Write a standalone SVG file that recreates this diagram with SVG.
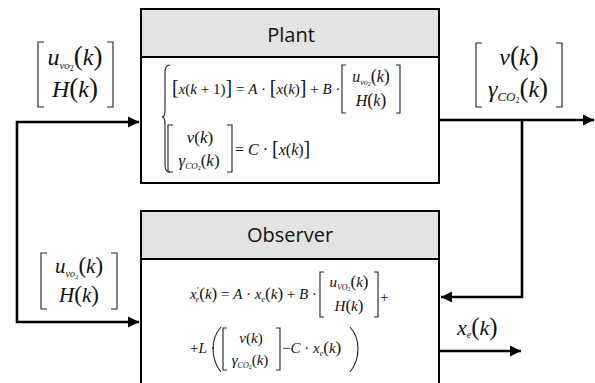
<svg xmlns="http://www.w3.org/2000/svg" width="595" height="383" viewBox="0 0 595 383">
<style>
.box{fill:#fff;stroke:#000;stroke-width:2}
.hdr{fill:#e3e3e3;stroke:#000;stroke-width:2}
.title{font-family:"Open Sans","Noto Sans",sans-serif;font-size:20px;fill:#111;text-anchor:middle}
.m{font-family:"Liberation Serif","Times New Roman",serif;fill:#111}
.i{font-style:italic}
.br{fill:none;stroke:#222;stroke-width:1.1}
.c{fill:none;stroke:#000;stroke-width:2.6}
</style>
<defs>
<marker id="ah" markerUnits="userSpaceOnUse" markerWidth="12" markerHeight="12" viewBox="0 0 12 12" refX="11" refY="6" orient="auto-start-reverse">
<path d="M0,0.5 L11,6 L0,11.5 Z" fill="#000"/>
</marker>
</defs>

<g id="plant">
<rect class="box" x="141" y="9" width="298" height="174"/>
<rect class="hdr" x="141" y="9" width="298" height="48"/>
<text class="title" x="291" y="42">Plant</text>
<path class="br" d="M170,65 Q165,65 165,72 V110 Q165,117 162,117 Q165,117 165,124 V165 Q165,172 170,172"/>
<text class="m" x="172" y="94" font-size="15"><tspan font-size="20">[</tspan><tspan class="i">x</tspan>(<tspan class="i">k</tspan> + 1)<tspan font-size="20">]</tspan> = <tspan class="i">A</tspan> · <tspan font-size="20">[</tspan><tspan class="i">x</tspan>(<tspan class="i">k</tspan>)<tspan font-size="20">]</tspan> + <tspan class="i">B</tspan> ·</text>
<path class="br" d="M346,65 H342 V113 H346 M396,65 H400 V113 H396"/>
<text class="m" x="371" y="82" font-size="16" text-anchor="middle"><tspan class="i">u</tspan><tspan class="i" font-size="8" dy="3">vo</tspan><tspan font-size="6" dy="1">2</tspan><tspan dy="-4" font-size="18">(</tspan><tspan class="i">k</tspan><tspan font-size="18">)</tspan></text>
<text class="m" x="371" y="106" font-size="16" text-anchor="middle"><tspan class="i">H</tspan><tspan font-size="18">(</tspan><tspan class="i">k</tspan><tspan font-size="18">)</tspan></text>
<path class="br" d="M173,125 H168 V172 H173 M227,125 H232 V172 H227"/>
<text class="m" x="200" y="143" font-size="17" text-anchor="middle"><tspan class="i">v</tspan>(<tspan class="i">k</tspan>)</text>
<text class="m" x="199" y="166" font-size="17" text-anchor="middle"><tspan class="i">γ</tspan><tspan class="i" font-size="9" dy="3">CO</tspan><tspan font-size="6" dy="1">2</tspan><tspan dy="-4">(</tspan><tspan class="i">k</tspan>)</text>
<text class="m" x="235" y="155" font-size="16">= <tspan class="i">C</tspan> · <tspan font-size="20">[</tspan><tspan class="i">x</tspan>(<tspan class="i">k</tspan>)<tspan font-size="20">]</tspan></text>
</g>

<g id="observer">
<rect class="box" x="141" y="211" width="298" height="180"/>
<rect class="hdr" x="141" y="211" width="298" height="48"/>
<text class="title" x="290" y="242">Observer</text>
<text class="m" x="190" y="299" font-size="15"><tspan class="i">x</tspan><tspan font-size="9" dy="-6">′</tspan><tspan class="i" font-size="8" dx="-3" dy="9">e</tspan><tspan dy="-3" font-size="17">(</tspan><tspan class="i">k</tspan><tspan font-size="17">)</tspan> = <tspan class="i">A</tspan> · <tspan class="i">x</tspan><tspan class="i" font-size="8" dy="3">e</tspan><tspan dy="-3" font-size="17">(</tspan><tspan class="i">k</tspan><tspan font-size="17">)</tspan> + <tspan class="i">B</tspan> ·</text>
<path class="br" d="M324,272 H320 V317 H324 M374,272 H378 V317 H374"/>
<text class="m" x="349" y="287" font-size="15" text-anchor="middle"><tspan class="i">u</tspan><tspan class="i" font-size="8" dy="3">VO</tspan><tspan font-size="6" dy="1">2</tspan><tspan dy="-4" font-size="17">(</tspan><tspan class="i">k</tspan><tspan font-size="17">)</tspan></text>
<text class="m" x="349" y="311" font-size="15" text-anchor="middle"><tspan class="i">H</tspan><tspan font-size="17">(</tspan><tspan class="i">k</tspan><tspan font-size="17">)</tspan></text>
<text class="m" x="380" y="302" font-size="15">+</text>
<text class="m" x="190" y="353" font-size="15">+<tspan class="i">L</tspan> ·</text>
<path class="br" d="M221,327 Q213,336 213,349 Q213,362 221,372"/>
<path class="br" d="M227,328 H223 V370 H227 M276,328 H280 V370 H276"/>
<text class="m" x="251" y="343" font-size="15" text-anchor="middle"><tspan class="i">v</tspan>(<tspan class="i">k</tspan>)</text>
<text class="m" x="250" y="365" font-size="15" text-anchor="middle"><tspan class="i">γ</tspan><tspan class="i" font-size="8" dy="3">CO</tspan><tspan font-size="6" dy="1">2</tspan><tspan dy="-4">(</tspan><tspan class="i">k</tspan>)</text>
<text class="m" x="282" y="353" font-size="15">−<tspan class="i">C</tspan> · <tspan class="i">x</tspan><tspan class="i" font-size="8" dy="3">e</tspan><tspan dy="-3" font-size="17">(</tspan><tspan class="i">k</tspan><tspan font-size="17">)</tspan></text>
<path class="br" d="M350,327 Q358,336 358,349 Q358,362 350,372"/>
</g>

<g id="labels">
<path class="br" d="M44,42 H38 V107 H44 M107,42 H113 V107 H107"/>
<text class="m" x="75" y="65" font-size="24" text-anchor="middle"><tspan class="i">u</tspan><tspan class="i" font-size="11" dy="4">vo</tspan><tspan font-size="8" dy="2">2</tspan><tspan dy="-6" font-size="27">(</tspan><tspan class="i">k</tspan><tspan font-size="27">)</tspan></text>
<text class="m" x="75" y="97" font-size="24" text-anchor="middle"><tspan class="i">H</tspan><tspan font-size="27">(</tspan><tspan class="i">k</tspan><tspan font-size="27">)</tspan></text>
<path class="br" d="M482,43 H476 V107 H482 M556,43 H562 V107 H556"/>
<text class="m" x="519" y="65" font-size="24" text-anchor="middle"><tspan class="i">v</tspan><tspan font-size="27">(</tspan><tspan class="i">k</tspan><tspan font-size="27">)</tspan></text>
<text class="m" x="518" y="97" font-size="24" text-anchor="middle"><tspan class="i">γ</tspan><tspan class="i" font-size="13" dy="4">CO</tspan><tspan font-size="8" dy="2">2</tspan><tspan dy="-6" font-size="27">(</tspan><tspan class="i">k</tspan><tspan font-size="27">)</tspan></text>
<path class="br" d="M47,253 H41 V309 H47 M111,253 H117 V309 H111"/>
<text class="m" x="79" y="273" font-size="21" text-anchor="middle"><tspan class="i">u</tspan><tspan class="i" font-size="10" dy="4">vo</tspan><tspan font-size="7" dy="2">2</tspan><tspan dy="-6" font-size="23">(</tspan><tspan class="i">k</tspan><tspan font-size="23">)</tspan></text>
<text class="m" x="79" y="302" font-size="21" text-anchor="middle"><tspan class="i">H</tspan><tspan font-size="23">(</tspan><tspan class="i">k</tspan><tspan font-size="23">)</tspan></text>
<text class="m" x="457" y="335" font-size="22"><tspan class="i">x</tspan><tspan class="i" font-size="10" dy="3">e</tspan><tspan dy="-3" font-size="25">(</tspan><tspan class="i">k</tspan><tspan font-size="25">)</tspan></text>
</g>

<g id="connectors">
<path class="c" d="M139,122 H17 V322 H139" marker-start="url(#ah)" marker-end="url(#ah)"/>
<path class="c" d="M440,120 H594" marker-end="url(#ah)"/>
<path class="c" d="M522,120 V297 H441" marker-end="url(#ah)"/>
<path class="c" d="M440,351 H521" marker-end="url(#ah)"/>
</g>
</svg>
